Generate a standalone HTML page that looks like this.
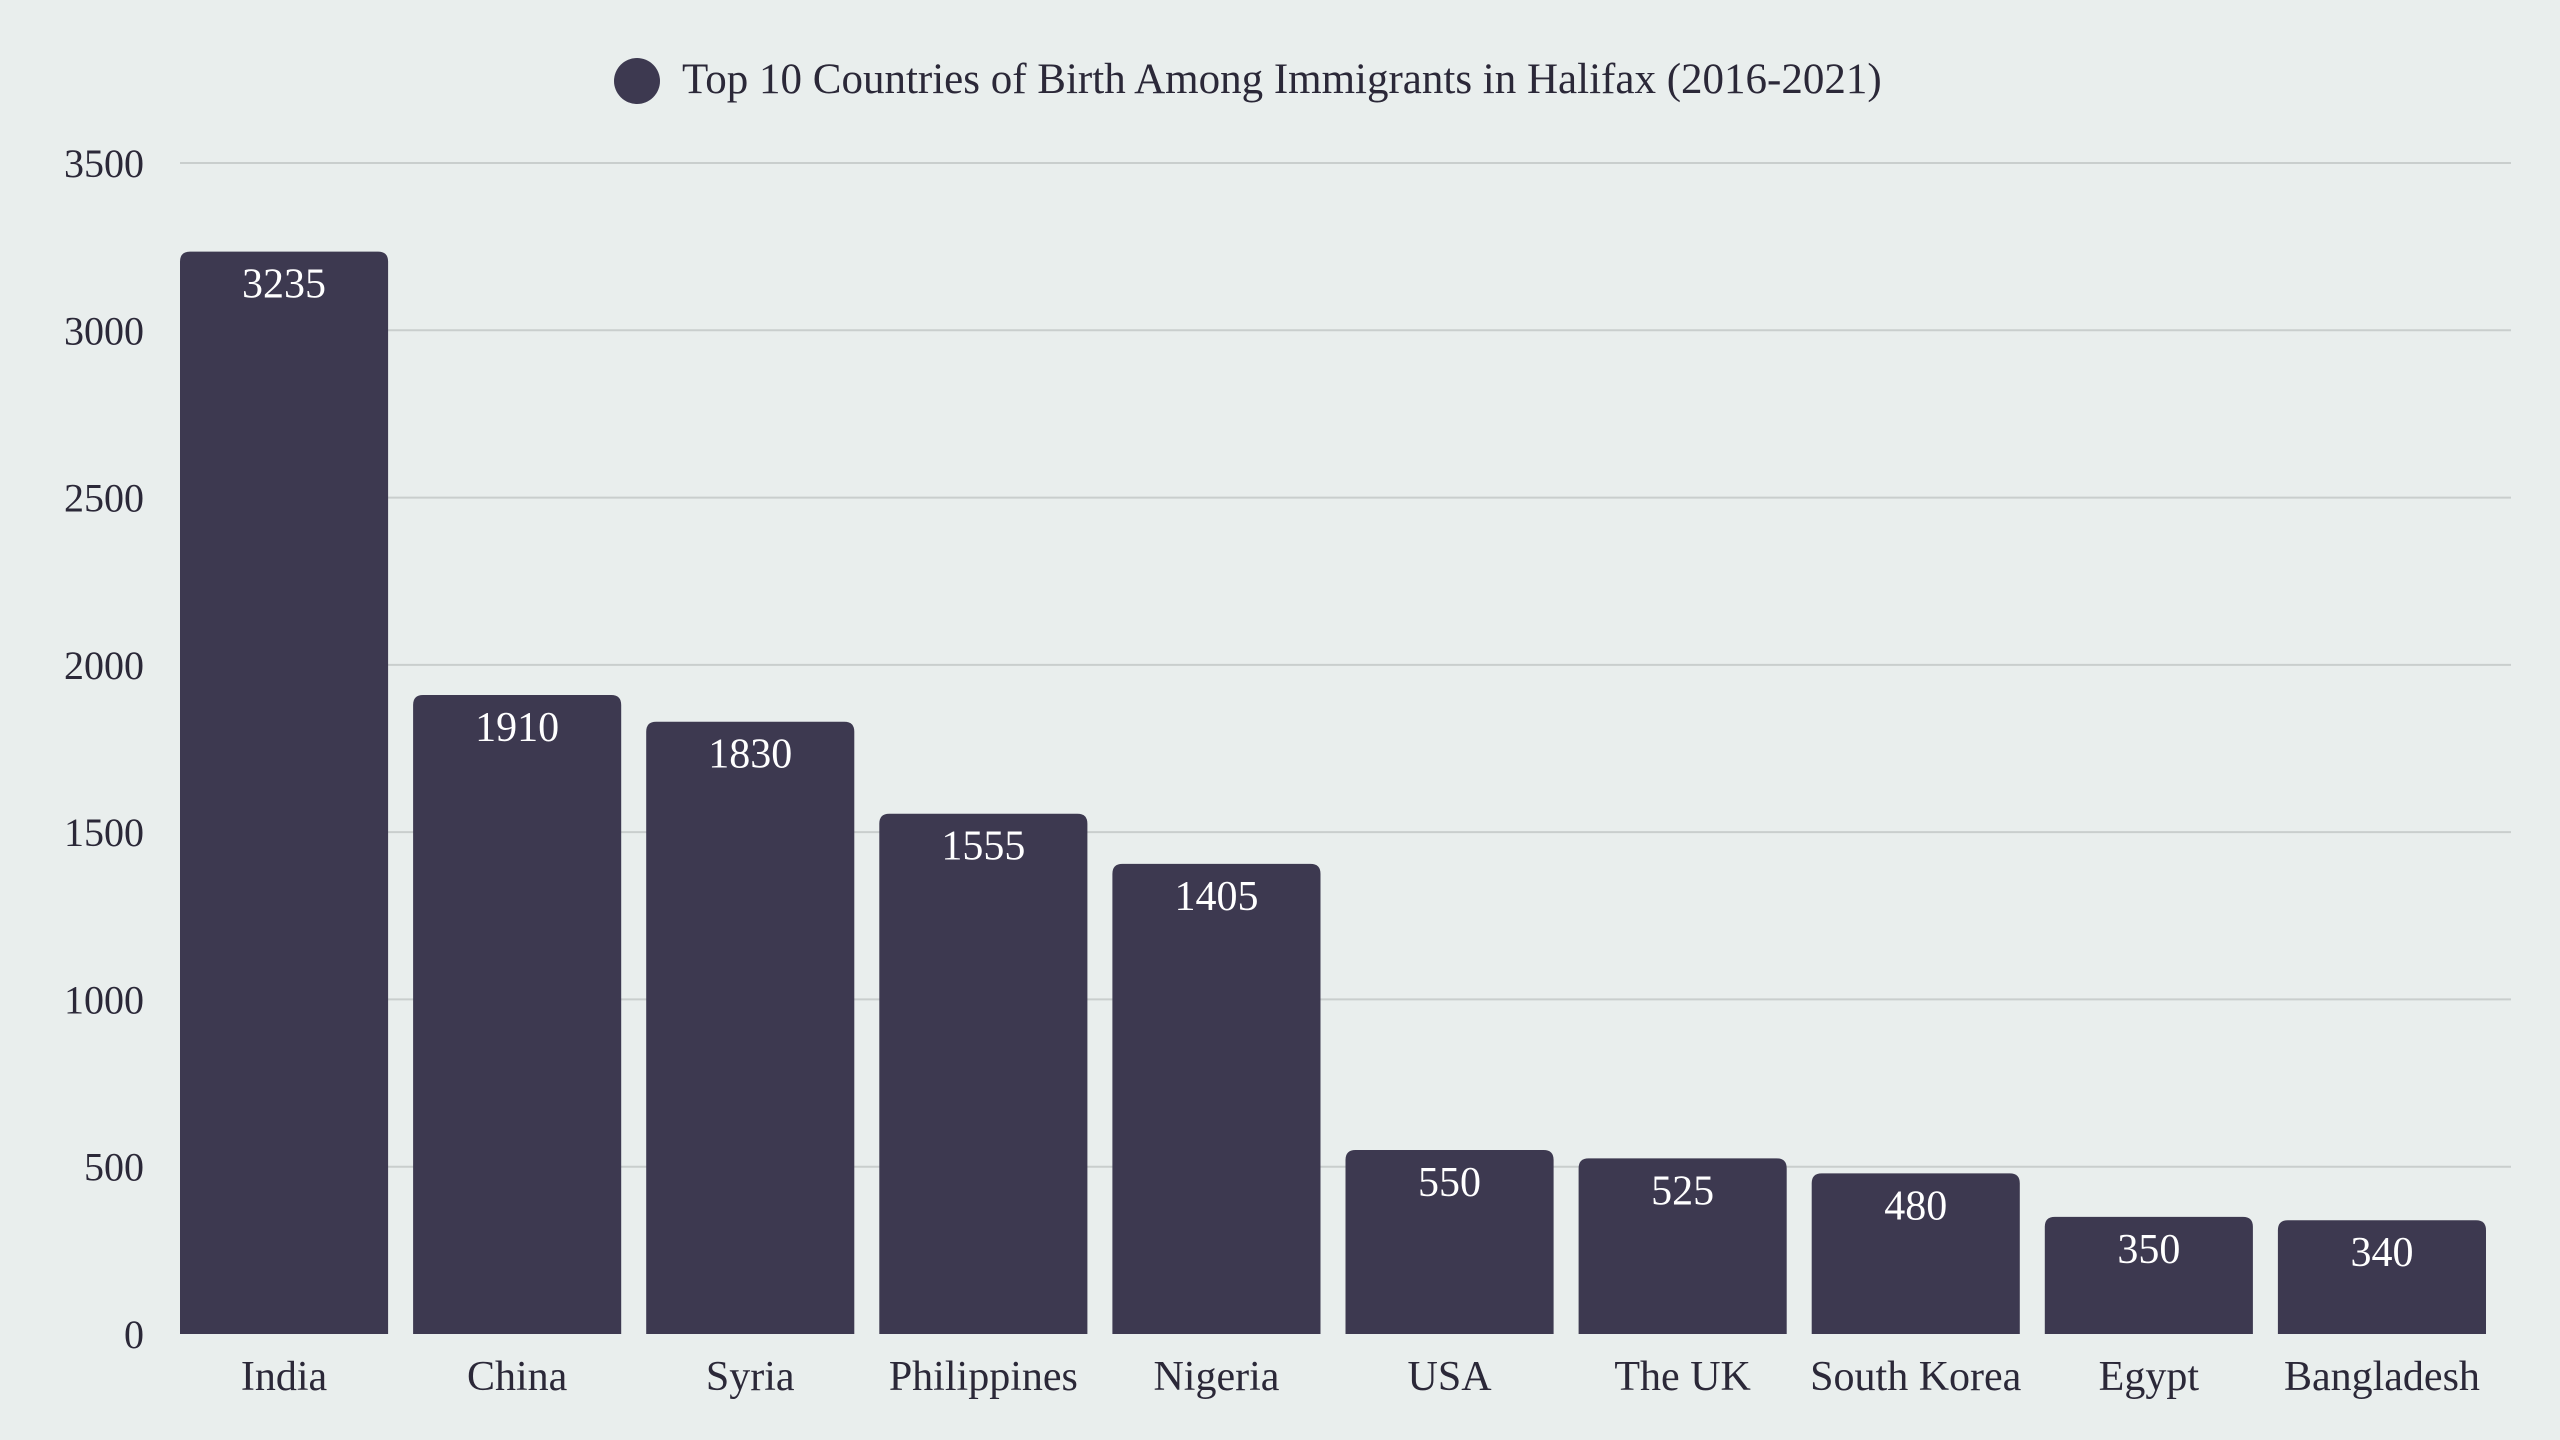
<!DOCTYPE html>
<html><head><meta charset="utf-8"><style>
html,body{margin:0;padding:0;background:#e9eeed;}
svg{display:block;font-family:"Liberation Serif",serif;}
</style></head><body>
<svg id="chart" width="2560" height="1440" viewBox="0 0 2560 1440" xmlns="http://www.w3.org/2000/svg">
<rect width="2560" height="1440" fill="#e9eeed"/>
<g id="legend">
<circle cx="637" cy="81" r="23" fill="#3d3950"/>
<text x="682" y="93" font-size="43" fill="#2b2838">Top 10 Countries of Birth Among Immigrants in Halifax (2016-2021)</text>
</g>
<g id="grid"></g><g id="bars"></g><g id="xlabels"></g>
</svg>
<script>
const categories=["India","China","Syria","Philippines","Nigeria","USA","The UK","South Korea","Egypt","Bangladesh"];
const values=[3235,1910,1830,1555,1405,550,525,480,350,340];
const ticks=[0,500,1000,1500,2000,2500,3000,3500];
const ns="http://www.w3.org/2000/svg";
const X0=180,X1=2511,Y0=1334,Y1=163,MAX=3500;
function y(v){return Y0-(v/MAX)*(Y0-Y1);}
const slot=(X1-X0)/categories.length,bw=slot-25;
function x(i){return X0+i*slot;}
function mk(t,a,p){const e=document.createElementNS(ns,t);for(const k in a)e.setAttribute(k,a[k]);p.appendChild(e);return e;}
const grid=document.getElementById('grid'),bars=document.getElementById('bars'),xl=document.getElementById('xlabels');
ticks.forEach(t=>{
 if(t>0){const l=mk('line',{x1:X0,x2:X1,y1:y(t),y2:y(t),stroke:'#c9cecd','stroke-width':2},grid);
 
 }
 const tx=mk('text',{x:144,y:y(t)+14,'text-anchor':'end','font-size':40,fill:'#2b2838'},grid);
 tx.textContent=t;
 
 
});
values.forEach((v,i)=>{
 const bx=x(i),by=y(v),h=Y0-by,r=10;
 const p=mk('path',{d:`M${bx},${Y0}V${by+r}Q${bx},${by} ${bx+r},${by}H${bx+bw-r}Q${bx+bw},${by} ${bx+bw},${by+r}V${Y0}Z`,fill:'#3d3950'},bars);
 
 
 const t=mk('text',{x:bx+bw/2,y:by+46,'text-anchor':'middle','font-size':42,fill:'#ffffff'},bars);
 t.textContent=v;
 
 
 const c=mk('text',{x:bx+bw/2,y:1390,'text-anchor':'middle','font-size':42,fill:'#2b2838'},xl);
 c.textContent=categories[i];
 
 
});
</script>
</body></html>
